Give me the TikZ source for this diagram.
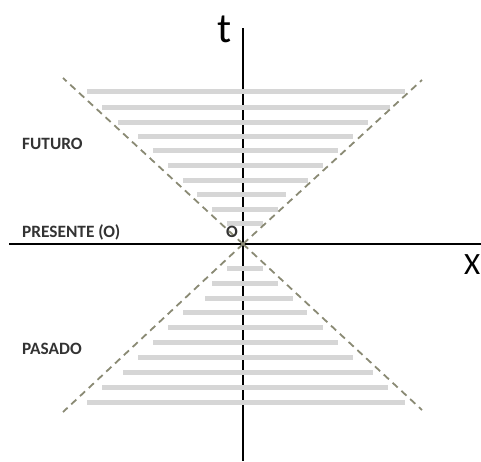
\documentclass[tikz,border=0pt]{standalone}
\usepackage{fontspec}
\setmainfont{Carlito}
\definecolor{bargray}{HTML}{D6D6D6}
\definecolor{conecol}{HTML}{8A8A74}
\definecolor{labcol}{HTML}{333333}
\begin{document}
\begin{tikzpicture}[x=1pt,y=-1pt,
  axis/.style={line width=1.8pt,black},
  bar/.style={line width=5pt,bargray},
  cone/.style={line width=1.8pt,conecol,dash pattern=on 7pt off 5pt},
  region/.style={font=\fontsize{17.3}{17.3}\selectfont\bfseries,text=labcol,anchor=west,inner sep=0pt},
  axlab/.style={inner sep=0pt,text=black}]
\useasboundingbox (0,0) rectangle (481,461);
\coordinate (O) at (243,244);
\coordinate (tt) at (243,28);
\coordinate (tb) at (243,461);
\coordinate (xl) at (9,244);
\coordinate (xr) at (481,244);
\draw[axis] (tt) -- (tb);
\draw[axis] (xl) -- (xr);
% future bars
\foreach \y/\a/\b in {91/87/405,107/102/390,122/118/368,136/138/353,150/153/338,165/168/323,180/183/308,194/197/286,209/212/278,223/227/263}
  \draw[bar] (\a,\y) -- (\b,\y);
% past bars
\foreach \y/\a/\b in {268/227/263,283/212/278,298/205/293,312/183/307,327/168/323,342/153/338,357/138/353,372/123/373,387/102/388,402/87/405}
  \draw[bar] (\a,\y) -- (\b,\y);
\coordinate (ul) at (63,78);
\coordinate (ur) at (422,80);
\coordinate (ll) at (63,412);
\coordinate (lr) at (422,410);
\draw[cone] (O) -- (ul);
\draw[cone] (O) -- (ur);
\draw[cone] (O) -- (ll);
\draw[cone] (O) -- (lr);
\node[axlab,font=\fontsize{42}{42}\selectfont] (tlab) at (225,29) {t};
\node[axlab,font=\fontsize{31}{31}\selectfont,anchor=west] (xlab) at (464,265) {X};
\node[region] (fut) at (22,144) {FUTURO};
\node[region] (pres) at (22,232) {PRESENTE (O)};
\node[region] (pas) at (22,349) {PASADO};
\node[region] (olab) at (226,232) {O};
\end{tikzpicture}
\end{document}
